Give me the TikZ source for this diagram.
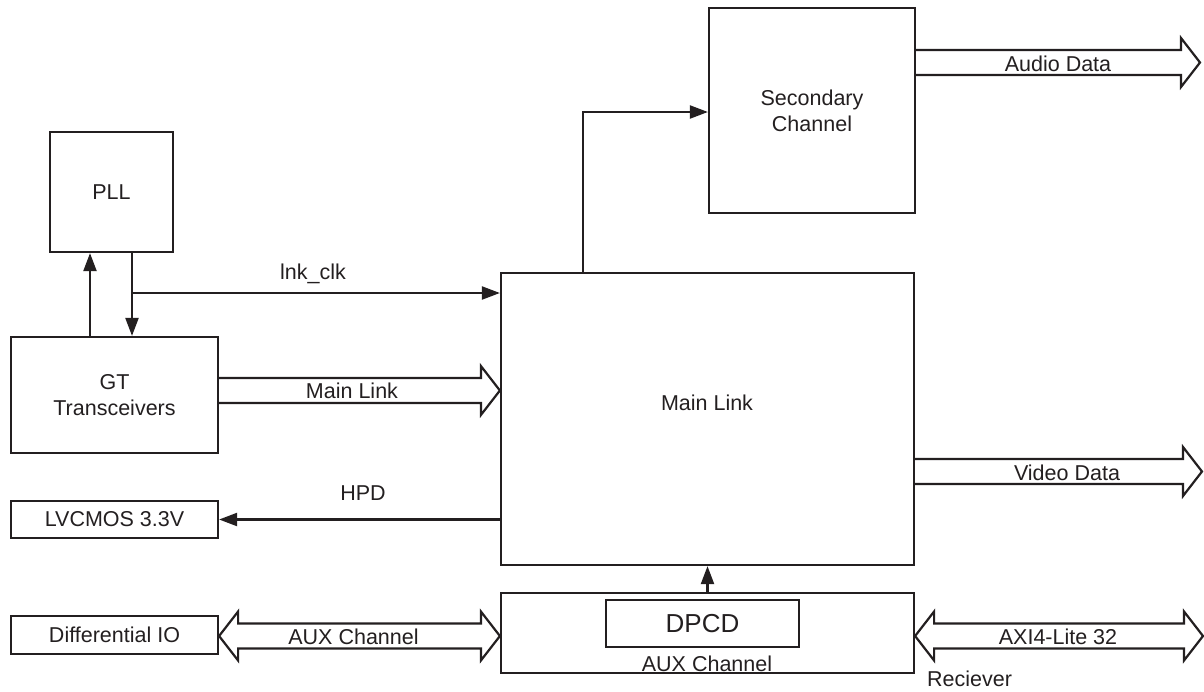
\documentclass[tikz,border=0pt]{standalone}
\usepackage{fontspec}
\setmainfont{Liberation Sans}
\usetikzlibrary{arrows.meta,calc}
\definecolor{ink}{HTML}{231F20}
\newcommand\lbl{\fontsize{21.5}{26}\selectfont}
\newcommand\biglbl{\fontsize{26}{30}\selectfont}
\tikzset{
  box/.style={draw=ink, line width=2.2pt, inner sep=0pt, align=center, font=\lbl, text=ink},
  txt/.style={font=\lbl, inner sep=0pt, text=ink},
  arr/.style={draw=ink, line width=2.2pt, -{Triangle[length=18pt,width=13pt]}},
  fat/.style={draw=ink, line width=2.2pt, line join=miter, fill=white}
}
% right-pointing hollow arrow: #1 start anchor, #2 tip anchor, #3 mid y
\newcommand\fatR[3]{%
  \draw[fat] ($(#1|-0,#3)+(0,-12.5)$) -- ($(#2|-0,#3)+(-19,-12.5)$)
    -- ($(#2|-0,#3)+(-19,-24.5)$) -- (#2|-0,#3) -- ($(#2|-0,#3)+(-19,24.5)$)
    -- ($(#2|-0,#3)+(-19,12.5)$) -- ($(#1|-0,#3)+(0,12.5)$);}
% double hollow arrow: #1 left tip, #2 right tip, #3 mid y
\newcommand\fatLR[3]{%
  \draw[fat] ($(#1|-0,#3)+(19,-12.5)$) -- ($(#2|-0,#3)+(-19,-12.5)$)
    -- ($(#2|-0,#3)+(-19,-24.5)$) -- (#2|-0,#3) -- ($(#2|-0,#3)+(-19,24.5)$)
    -- ($(#2|-0,#3)+(-19,12.5)$) -- ($(#1|-0,#3)+(19,12.5)$)
    -- ($(#1|-0,#3)+(19,24.5)$) -- (#1|-0,#3) -- ($(#1|-0,#3)+(19,-24.5)$) -- cycle;}
\begin{document}
\begin{tikzpicture}[x=1pt,y=-1pt]
\useasboundingbox (0,0) rectangle (1204,691);

% blocks
\node[box, minimum width=123pt, minimum height=120pt] (pll) at (111.5,192) {PLL};
\node[box, minimum width=207pt, minimum height=116pt] (gt) at (114.5,395) {GT\\Transceivers};
\node[box, minimum width=207pt, minimum height=37pt] (lv) at (114.5,519.5) {LVCMOS 3.3V};
\node[box, minimum width=207pt, minimum height=38pt] (diff) at (114.5,635) {Differential IO};
\node[box, minimum width=413pt, minimum height=292pt] (ml) at (707.5,419) {};
\node[txt] (mltxt) at (707,403) {Main Link};
\node[box, minimum width=206pt, minimum height=205pt] (sec) at (812,110.5) {Secondary\\Channel};
\node[box, minimum width=413pt, minimum height=80pt] (aux) at (707.5,633) {};
\node[box, minimum width=193pt, minimum height=47pt, font=\biglbl] (dpcd) at (702.5,623.5) {DPCD};
\node[txt] (auxtxt) at (707,664) {AUX Channel};
\node[txt, anchor=base west] (rcv) at (927,686) {Reciever};

% free ends
\coordinate (audioend) at (1200,62.5);
\coordinate (videoend) at (1202,471.5);
\coordinate (axiend) at (1203,636);
\coordinate (clkj) at (132,293);

% thin connectors
\draw[arr] (gt.north -| 90,0) -- (pll.south -| 90,0);
\draw[arr] (pll.south -| clkj) -- (gt.north -| clkj);
\draw[arr] (clkj) -- (ml.west |- clkj);
\node[txt] (clklbl) at (313,274) {lnk\_clk};
\draw[arr] (ml.west |- lv.east) -- (lv.east);
\node[txt] (hpdlbl) at (363,493) {HPD};
\draw[arr] (ml.north -| 583,0) |- (sec.west |- 0,112);
\draw[arr] (aux.north) -- (ml.south);

% hollow bus arrows
\fatR{gt.east}{ml.west}{390.5}
\node[txt] (mainlbl) at (352,391) {Main Link};
\fatLR{diff.east}{aux.west}{636}
\node[txt] (auxlbl) at (353.5,637) {AUX Channel};
\fatLR{aux.east}{axiend}{636}
\node[txt] (axilbl) at (1058,637) {AXI4-Lite 32};
\fatR{sec.east}{audioend}{62.5}
\node[txt] (audiolbl) at (1058,64) {Audio Data};
\fatR{ml.east}{videoend}{471.5}
\node[txt] (videolbl) at (1067,473) {Video Data};
\end{tikzpicture}
\end{document}
